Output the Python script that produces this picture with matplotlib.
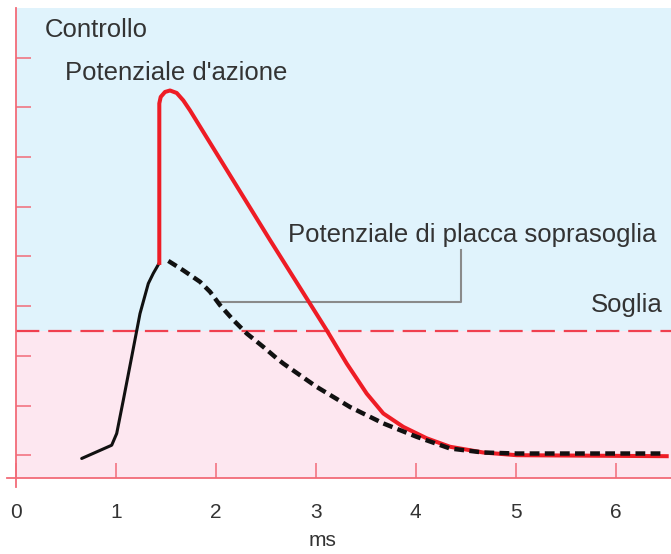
import matplotlib.pyplot as plt

# dati (tempo in ms, potenziale in mV)
t_salita = [0.66, 0.96, 1.01, 1.076, 1.16, 1.243, 1.326, 1.376, 1.436]
v_salita = [-90.66, -87.99, -85.63, -78.93, -70.2, -61.5, -55.45, -53.4, -51.3]

t_azione = [1.436, 1.436, 1.45, 1.493, 1.543, 1.61, 1.676, 1.743, 2.543, 2.943,
            3.11, 3.31, 3.51, 3.676, 3.876, 4.11, 4.343, 4.676, 5.01, 6.51]
v_azione = [-51.3, -19.2, -17.9, -16.9, -16.6, -17.1, -18.6, -20.6, -46.7, -59.5,
            -64.85, -71.55, -77.6, -81.6, -84.3, -86.6, -88.3, -89.46, -90.0, -90.2]

t_placca = [1.526, 1.676, 1.843, 1.943, 2.043, 2.176, 2.31, 2.476, 2.61, 2.676,
            3.01, 3.343, 3.676, 4.01, 4.343, 4.676, 5.01, 6.47]
v_placca = [-50.9, -52.8, -55.1, -57.1, -59.8, -62.8, -65.5, -68.2, -70.5, -71.55,
            -76.25, -80.3, -83.6, -86.3, -88.65, -89.46, -89.66, -89.66]

soglia = -65
x_ticks = [0, 1, 2, 3, 4, 5, 6]
y_ticks = [-90, -80, -70, -60, -50, -40, -30, -20, -10]

plt.rcParams['font.family'] = ['Liberation Sans', 'DejaVu Sans']

fig = plt.figure(figsize=(6.71, 5.54), dpi=100)
ax = fig.add_axes([7 / 671, 67 / 554, 664 / 671, 479 / 554])
ax.set_xlim(-0.087, 6.553)
ax.set_ylim(-96.4, 0)
ax.patch.set_alpha(0)

col_asse = '#f26b78'
col_testo = '#333333'

# sfondo: sopra soglia azzurro, sotto soglia rosa
ax.fill_between([0, 6.553], soglia, 0, color='#e0f3fc', lw=0, zorder=0)
ax.fill_between([0, 6.553], -94.5, soglia, color='#fde7f0', lw=0, zorder=0)

ax.plot([0, 6.553], [soglia, soglia], color='#f0404f', lw=1.6, dashes=(10.5, 4),
        zorder=1)

# linea di richiamo
ax.plot([2.04, 4.45, 4.45], [-59.2, -59.2, -48.75], color='#8a8a8a', lw=1.5, zorder=2)

ax.plot(t_salita, v_salita, color='#111111', lw=2.2, solid_capstyle='round',
        solid_joinstyle='round', zorder=3)
ax.plot(t_azione, v_azione, color='#ee1c25', lw=2.9, solid_joinstyle='round', zorder=3)
ax.plot(t_placca, v_placca, color='#111111', lw=3.2, dashes=(2.2, 1.2), zorder=4)

# assi
for s in ['top', 'right']:
    ax.spines[s].set_visible(False)
ax.spines['left'].set_position(('data', 0))
ax.spines['bottom'].set_position(('data', -94.5))
for s in ['left', 'bottom']:
    ax.spines[s].set_color(col_asse)
    ax.spines[s].set_linewidth(1.3)

ax.set_xticks(x_ticks)
ax.set_yticks(y_ticks)
ax.set_yticklabels([])
ax.tick_params(direction='in', length=11, width=1.1, color=col_asse)
ax.tick_params(axis='x', labelsize=15, labelcolor=col_testo, pad=18)

fig.text(323 / 671, 1 - 541 / 554, 'ms', fontsize=15, color=col_testo,
         ha='center', va='center')

fs = 18.5
ax.text(0.293, -5.9, 'Controllo', fontsize=fs, color=col_testo, va='baseline')
ax.text(0.493, -14.55, "Potenziale d'azione", fontsize=fs, color=col_testo, va='baseline')
ax.text(2.723, -47.1, 'Potenziale di placca soprasoglia', fontsize=fs,
        color=col_testo, va='baseline')
ax.text(6.473, -61.2, 'Soglia', fontsize=fs, color=col_testo, va='baseline', ha='right')

fig.savefig('out.png', dpi=100)
